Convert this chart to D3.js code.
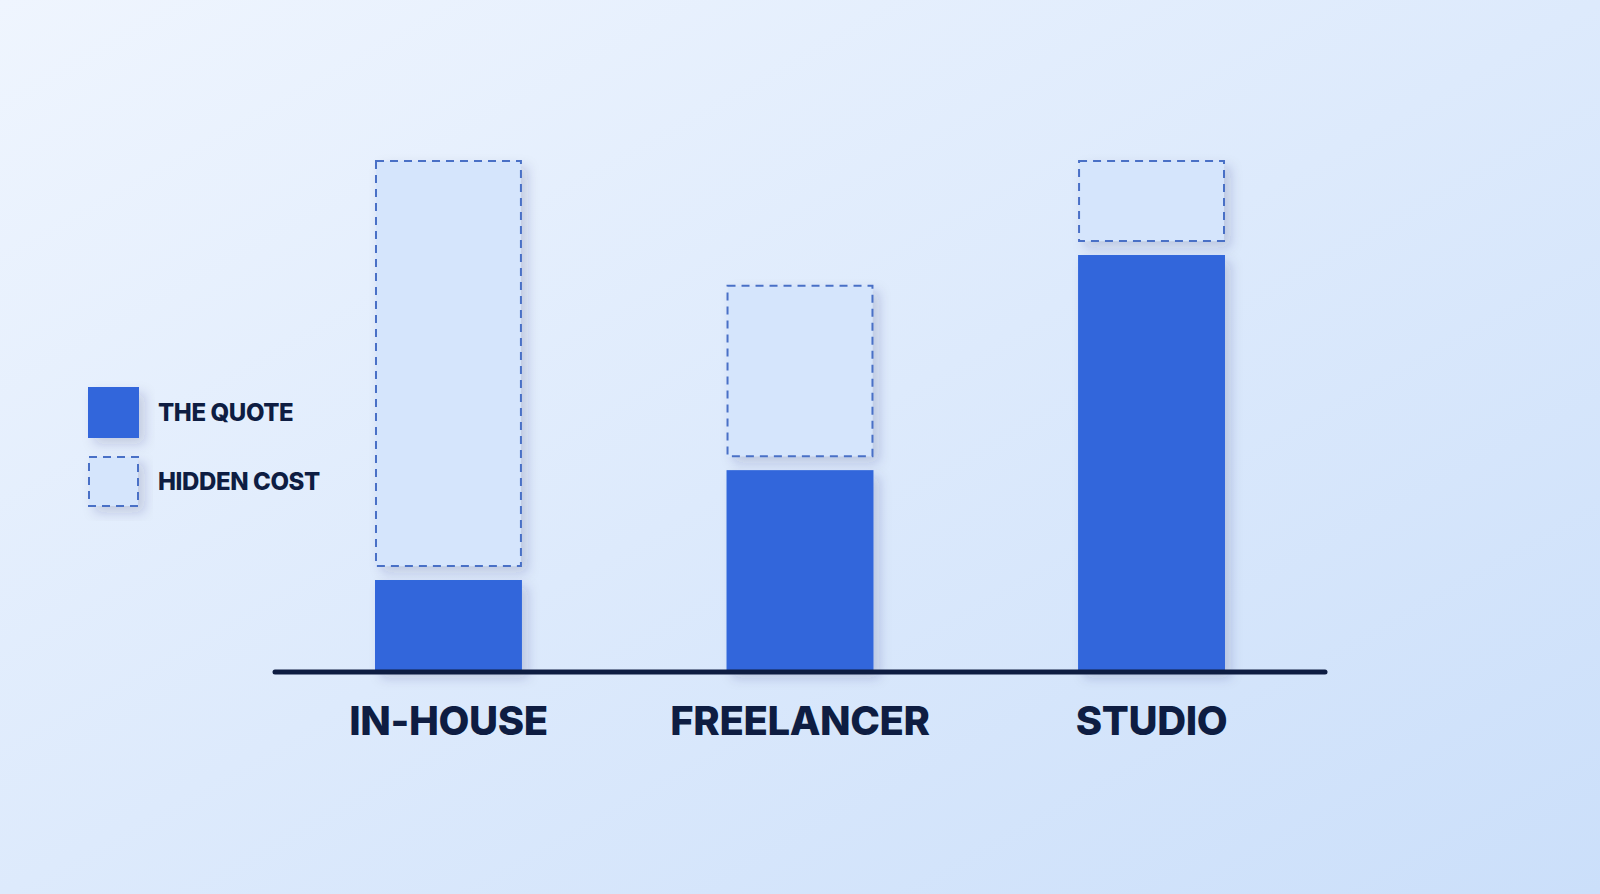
<!DOCTYPE html>
<html>
<head>
<meta charset="utf-8">
<script src="https://cdn.jsdelivr.net/npm/d3@7"></script>
<style>
  html, body { margin: 0; padding: 0; overflow: hidden; }
  svg { display: block; }
</style>
</head>
<body>
<svg width="1600" height="894"></svg>
<script>
// data
const categories = ['IN-HOUSE', 'FREELANCER', 'STUDIO'];
const quoteValues = [18, 39.5, 81.6];
const hiddenValues = [82, 36.1, 18.4];
const legendLabels = ['THE QUOTE', 'HIDDEN COST'];

const svg = d3.select('svg');
const width = +svg.attr('width');
const height = +svg.attr('height');

const blue = '#3066db';
const hiddenFill = '#d5e5fc';
const hiddenStroke = '#4a70c6';
const navy = '#0e1d42';
const gap = 14;

// background + filters
const defs = svg.append('defs');
const bg = defs.append('linearGradient')
   .attr('id', 'bg')
   .attr('x1', '0%').attr('y1', '0%')
   .attr('x2', '100%').attr('y2', '100%');
bg.append('stop').attr('offset', '0%').attr('stop-color', '#eff5fe');
bg.append('stop').attr('offset', '100%').attr('stop-color', '#cbdffa');

const shadow = defs.append('filter')
   .attr('id', 'shadow')
   .attr('x', '-30%').attr('y', '-30%')
   .attr('width', '160%').attr('height', '160%');
shadow.append('feDropShadow')
   .attr('dx', 6).attr('dy', 6)
   .attr('stdDeviation', 6)
   .attr('flood-color', '#1a2f66')
   .attr('flood-opacity', 0.18);

svg.append('rect')
   .attr('width', width).attr('height', height)
   .attr('fill', 'url(#bg)');

// scales
const x = d3.scaleBand()
   .domain(categories)
   .range([272, 1328])
   .paddingInner(0.582)
   .paddingOuter(0.293);

const y = d3.scaleLinear()
   .domain([0, 100])
   .range([672, 161]);

const rows = categories.map((c, i) => ({
   cat: c,
   quote: quoteValues[i],
   hidden: hiddenValues[i]
}));

// hidden cost (dashed) boxes
svg.append('g')
   .selectAll('rect')
   .data(rows)
   .join('rect')
   .attr('x', d => x(d.cat) + 1)
   .attr('width', x.bandwidth() - 2)
   .attr('y', d => y(d.quote + d.hidden))
   .attr('height', d => y(d.quote) - y(d.quote + d.hidden) - gap)
   .attr('fill', hiddenFill)
   .attr('stroke', hiddenStroke)
   .attr('stroke-width', 2)
   .attr('stroke-dasharray', '8 6')
   .attr('filter', 'url(#shadow)');

// quote bars
svg.append('g')
   .selectAll('rect')
   .data(rows)
   .join('rect')
   .attr('x', d => x(d.cat))
   .attr('width', x.bandwidth())
   .attr('y', d => y(d.quote))
   .attr('height', d => y(0) - y(d.quote))
   .attr('fill', blue)
   .attr('filter', 'url(#shadow)');

// baseline
svg.append('line')
   .attr('x1', 275).attr('x2', 1325)
   .attr('y1', y(0)).attr('y2', y(0))
   .attr('stroke', navy)
   .attr('stroke-width', 5)
   .attr('stroke-linecap', 'round');

// category labels
svg.append('g')
   .selectAll('text')
   .data(categories)
   .join('text')
   .attr('x', d => x(d) + x.bandwidth() / 2)
   .attr('y', 735)
   .attr('text-anchor', 'middle')
   .attr('font-family', 'Inter, "Noto Sans", sans-serif')
   .attr('font-weight', 800)
   .attr('font-size', 40)
   .attr('letter-spacing', -0.4)
   .attr('fill', navy)
   .text(d => d);

// legend
const legend = svg.append('g').attr('transform', 'translate(88,387)');
const item = legend.selectAll('g')
   .data(legendLabels)
   .join('g')
   .attr('transform', (d, i) => `translate(0,${i * 69})`);

item.append('rect')
   .attr('x', (d, i) => i ? 1 : 0)
   .attr('y', (d, i) => i ? 1 : 0)
   .attr('width', (d, i) => i ? 49 : 51)
   .attr('height', (d, i) => i ? 49 : 51)
   .attr('fill', (d, i) => i ? hiddenFill : blue)
   .attr('stroke', (d, i) => i ? hiddenStroke : 'none')
   .attr('stroke-width', 2)
   .attr('stroke-dasharray', (d, i) => i ? '8 6' : null)
   .attr('filter', 'url(#shadow)');

item.append('text')
   .attr('x', 70)
   .attr('y', 34)
   .attr('font-family', 'Inter, "Noto Sans", sans-serif')
   .attr('font-weight', 800)
   .attr('font-size', 24)
   .attr('letter-spacing', -0.4)
   .attr('fill', navy)
   .text(d => d);
</script>
</body>
</html>
